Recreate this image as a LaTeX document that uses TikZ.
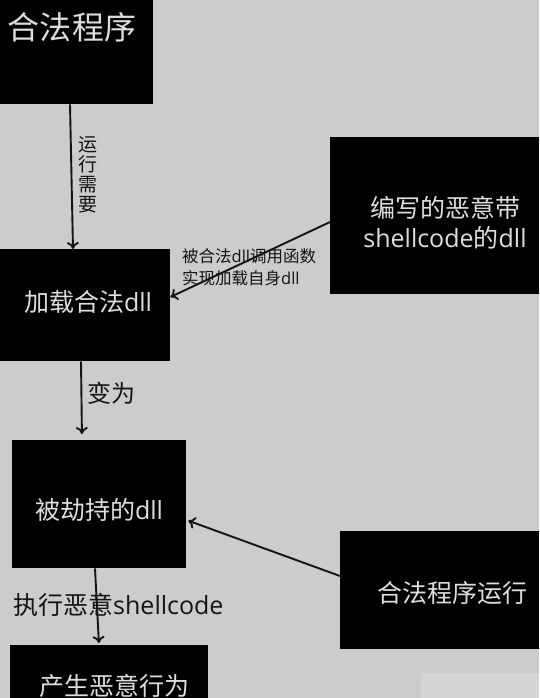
\documentclass[tikz,border=0pt]{standalone}
\usepackage{fontspec}
\setmainfont{Noto Sans CJK SC}
\newfontfamily\latf{Open Sans}
\usetikzlibrary{arrows.meta}
\definecolor{bg}{RGB}{204,204,204}
\definecolor{bglight}{RGB}{214,214,214}
\definecolor{boxtext}{RGB}{222,222,222}
\definecolor{lbl}{RGB}{20,20,20}
\begin{document}
\begin{tikzpicture}[x=1pt,y=-1pt,
  box/.style={fill=black,draw=none,anchor=north west,inner sep=0pt},
  intext/.style={text=boxtext,inner sep=0pt,font=\fontsize{25}{30}\selectfont},
  lbltext/.style={text=lbl,inner sep=0pt},
  conn/.style={draw=black!92,line width=1.9pt,-{To[length=7pt,width=12pt]}}]
\fill[bg] (0,0) rectangle (539,698);
\useasboundingbox (0,0) rectangle (539,698);
\fill[bglight] (421,673) rectangle (539,698);
% boxes
\node[box,minimum width=153pt,minimum height=104pt] (b1) at (0,0) {};
\node[box,minimum width=170pt,minimum height=112pt] (b2) at (0,249) {};
\node[box,minimum width=209pt,minimum height=157pt] (b3) at (330,137) {};
\node[box,minimum width=174pt,minimum height=128pt] (b4) at (12,440) {};
\node[box,minimum width=199pt,minimum height=118pt] (b5) at (340,531) {};
\node[box,minimum width=198pt,minimum height=53pt] (b6) at (10,645) {};
% box texts
\node[intext,font=\fontsize{32}{36}\selectfont] (t1) at (72,27) {合法程序};
\node[intext] (t2) at (88,302) {加载合法{\latf dll}};
\node[intext,align=center] (t3) at (445,223) {编写的恶意带\\{\latf shellcode}的{\latf dll}};
\node[intext] (t4) at (99,510) {被劫持的{\latf dll}};
\node[intext] (t5) at (452,593) {合法程序运行};
\node[intext] (t6) at (114,686) {产生恶意行为};
% labels
\node[lbltext,align=center,font=\fontsize{19}{20}\selectfont] (l1) at (88,175) {运\\行\\需\\要};
\node[lbltext,anchor=west,align=left,font=\fontsize{16.5}{22}\selectfont] (l2) at (182,267) {被合法{\latf dll}调用函数\\实现加载自身{\latf dll}};
\node[lbltext,font=\fontsize{24}{28}\selectfont] (l3) at (111,393) {变为};
\node[lbltext,anchor=west,font=\fontsize{25}{28}\selectfont] (l4) at (13,605) {执行恶意{\latf shellcode}};
% connectors
\draw[conn] ([xshift=70pt]b1.south west) -- ([xshift=73pt]b2.north west);
\draw[conn] ([yshift=-85pt]b3.north west) -- ([yshift=-48pt]b2.north east);
\draw[conn,shorten >=6pt] ([xshift=81pt]b2.south west) -- ([xshift=70pt]b4.north west);
\draw[conn,shorten >=2pt] ([yshift=-45pt]b5.north west) -- ([yshift=-80pt]b4.north east);
\draw[conn,shorten >=2pt] ([xshift=83pt]b4.south west) -- ([xshift=89pt]b6.north west);
\end{tikzpicture}
\end{document}
